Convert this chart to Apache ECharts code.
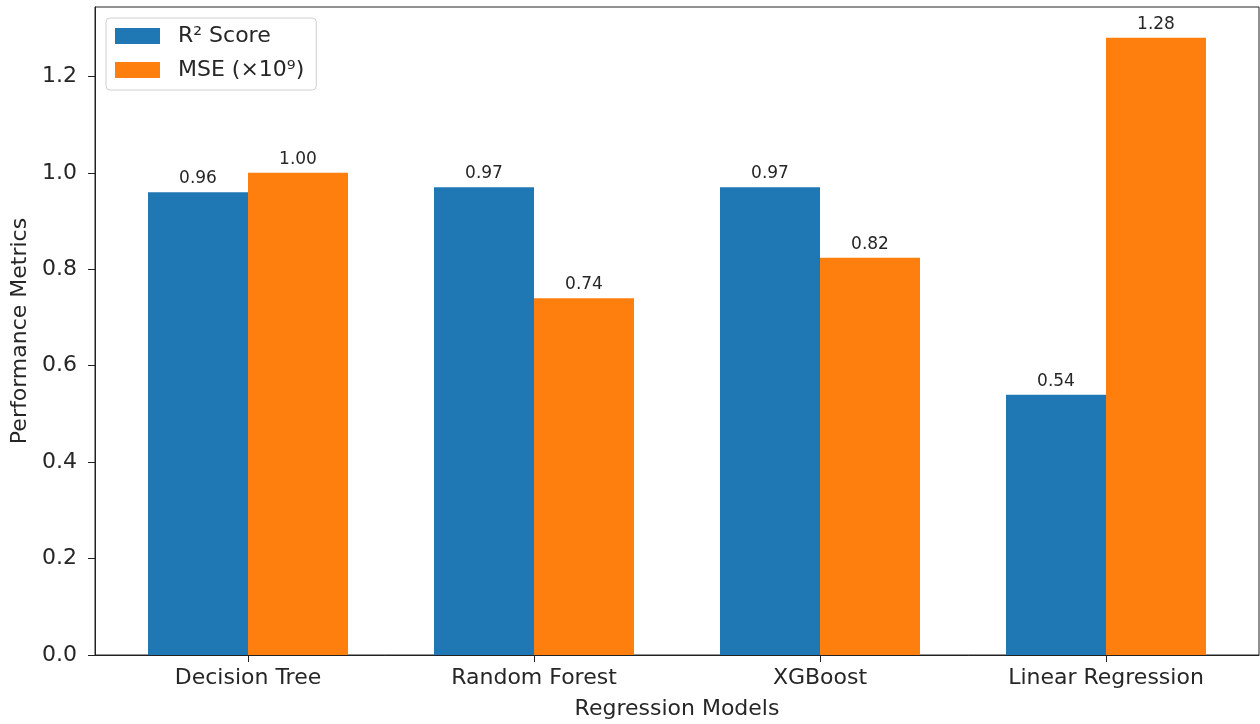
<!DOCTYPE html>
<html>
<head>
<meta charset="utf-8">
<script src="https://cdn.jsdelivr.net/npm/echarts@6/dist/echarts.min.js"></script>
<style>
html,body{margin:0;padding:0;background:#fff;}
#chart{width:1260px;height:724px;}
</style>
</head>
<body>
<div id="chart"></div>
<script>
const categories = ['Decision Tree', 'Random Forest', 'XGBoost', 'Linear Regression'];
const r2Scores = [0.96, 0.97, 0.97, 0.54];
const mseValues = [1.00, 0.74, 0.824, 1.28];
const yTicks = [0, 0.2, 0.4, 0.6, 0.8, 1.0, 1.2];
const seriesNames = ['R² Score', 'MSE (×10⁹)'];

const FONT = 'DejaVu Sans';
const TXT = '#262626';
const chart = echarts.init(document.getElementById('chart'));
const catIdx = categories.map((c, i) => i);

chart.setOption({
  animation: false,
  textStyle: { fontFamily: FONT },
  grid: {
    left: 95, right: 1, top: 7, bottom: 69,
    outerBoundsMode: 'none',
    containLabel: false,
    show: true, borderColor: '#222', borderWidth: 1, backgroundColor: 'transparent'
  },
  legend: {
    orient: 'vertical',
    left: 106, top: 18,
    itemWidth: 45, itemHeight: 16, itemGap: 12,
    padding: [7, 12, 9, 9],
    backgroundColor: '#fff',
    borderColor: '#d0d0d0', borderWidth: 1, borderRadius: 4,
    icon: 'rect',
    textStyle: { fontFamily: FONT, fontSize: 22, color: TXT, padding: [0, 0, 0, 13] },
    data: seriesNames
  },
  xAxis: {
    type: 'value',
    min: -0.535, max: 3.535,
    splitLine: { show: false },
    axisLine: { show: true, onZero: false, lineStyle: { color: '#222', width: 1 } },
    axisTick: { show: true, length: 7, lineStyle: { color: '#222' }, customValues: catIdx },
    axisLabel: {
      customValues: catIdx,
      fontFamily: FONT, fontSize: 22, color: TXT, margin: 12,
      formatter: v => categories[Math.round(v)]
    },
    name: 'Regression Models',
    nameLocation: 'middle', nameGap: 43,
    nameTextStyle: { fontFamily: FONT, fontSize: 22, color: TXT }
  },
  yAxis: {
    type: 'value',
    min: 0, max: 1.344,
    splitLine: { show: false },
    axisLine: { show: true, onZero: false, lineStyle: { color: '#222', width: 1 } },
    axisTick: { show: true, length: 7, lineStyle: { color: '#222' }, customValues: yTicks },
    axisLabel: {
      customValues: yTicks,
      fontFamily: FONT, fontSize: 22, color: TXT, margin: 18,
      formatter: v => (v > 1.3 ? '' : v.toFixed(1))
    },
    name: 'Performance Metrics',
    nameLocation: 'middle', nameGap: 62,
    nameTextStyle: { fontFamily: FONT, fontSize: 22, color: TXT }
  },
  series: [
    {
      name: seriesNames[0], type: 'bar',
      data: r2Scores.map((v, i) => [i, v]),
      barWidth: 100, barGap: '0%',
      itemStyle: { color: '#1f77b4' },
      label: { show: true, position: 'top', distance: 5, fontFamily: FONT, fontSize: 17, color: TXT,
        formatter: p => p.value[1].toFixed(2) }
    },
    {
      name: seriesNames[1], type: 'bar',
      data: mseValues.map((v, i) => [i, v]),
      barWidth: 100, barGap: '0%',
      itemStyle: { color: '#ff7f0e' },
      label: { show: true, position: 'top', distance: 5, fontFamily: FONT, fontSize: 17, color: TXT,
        formatter: p => p.value[1].toFixed(2) }
    }
  ]
});
</script>
</body>
</html>
